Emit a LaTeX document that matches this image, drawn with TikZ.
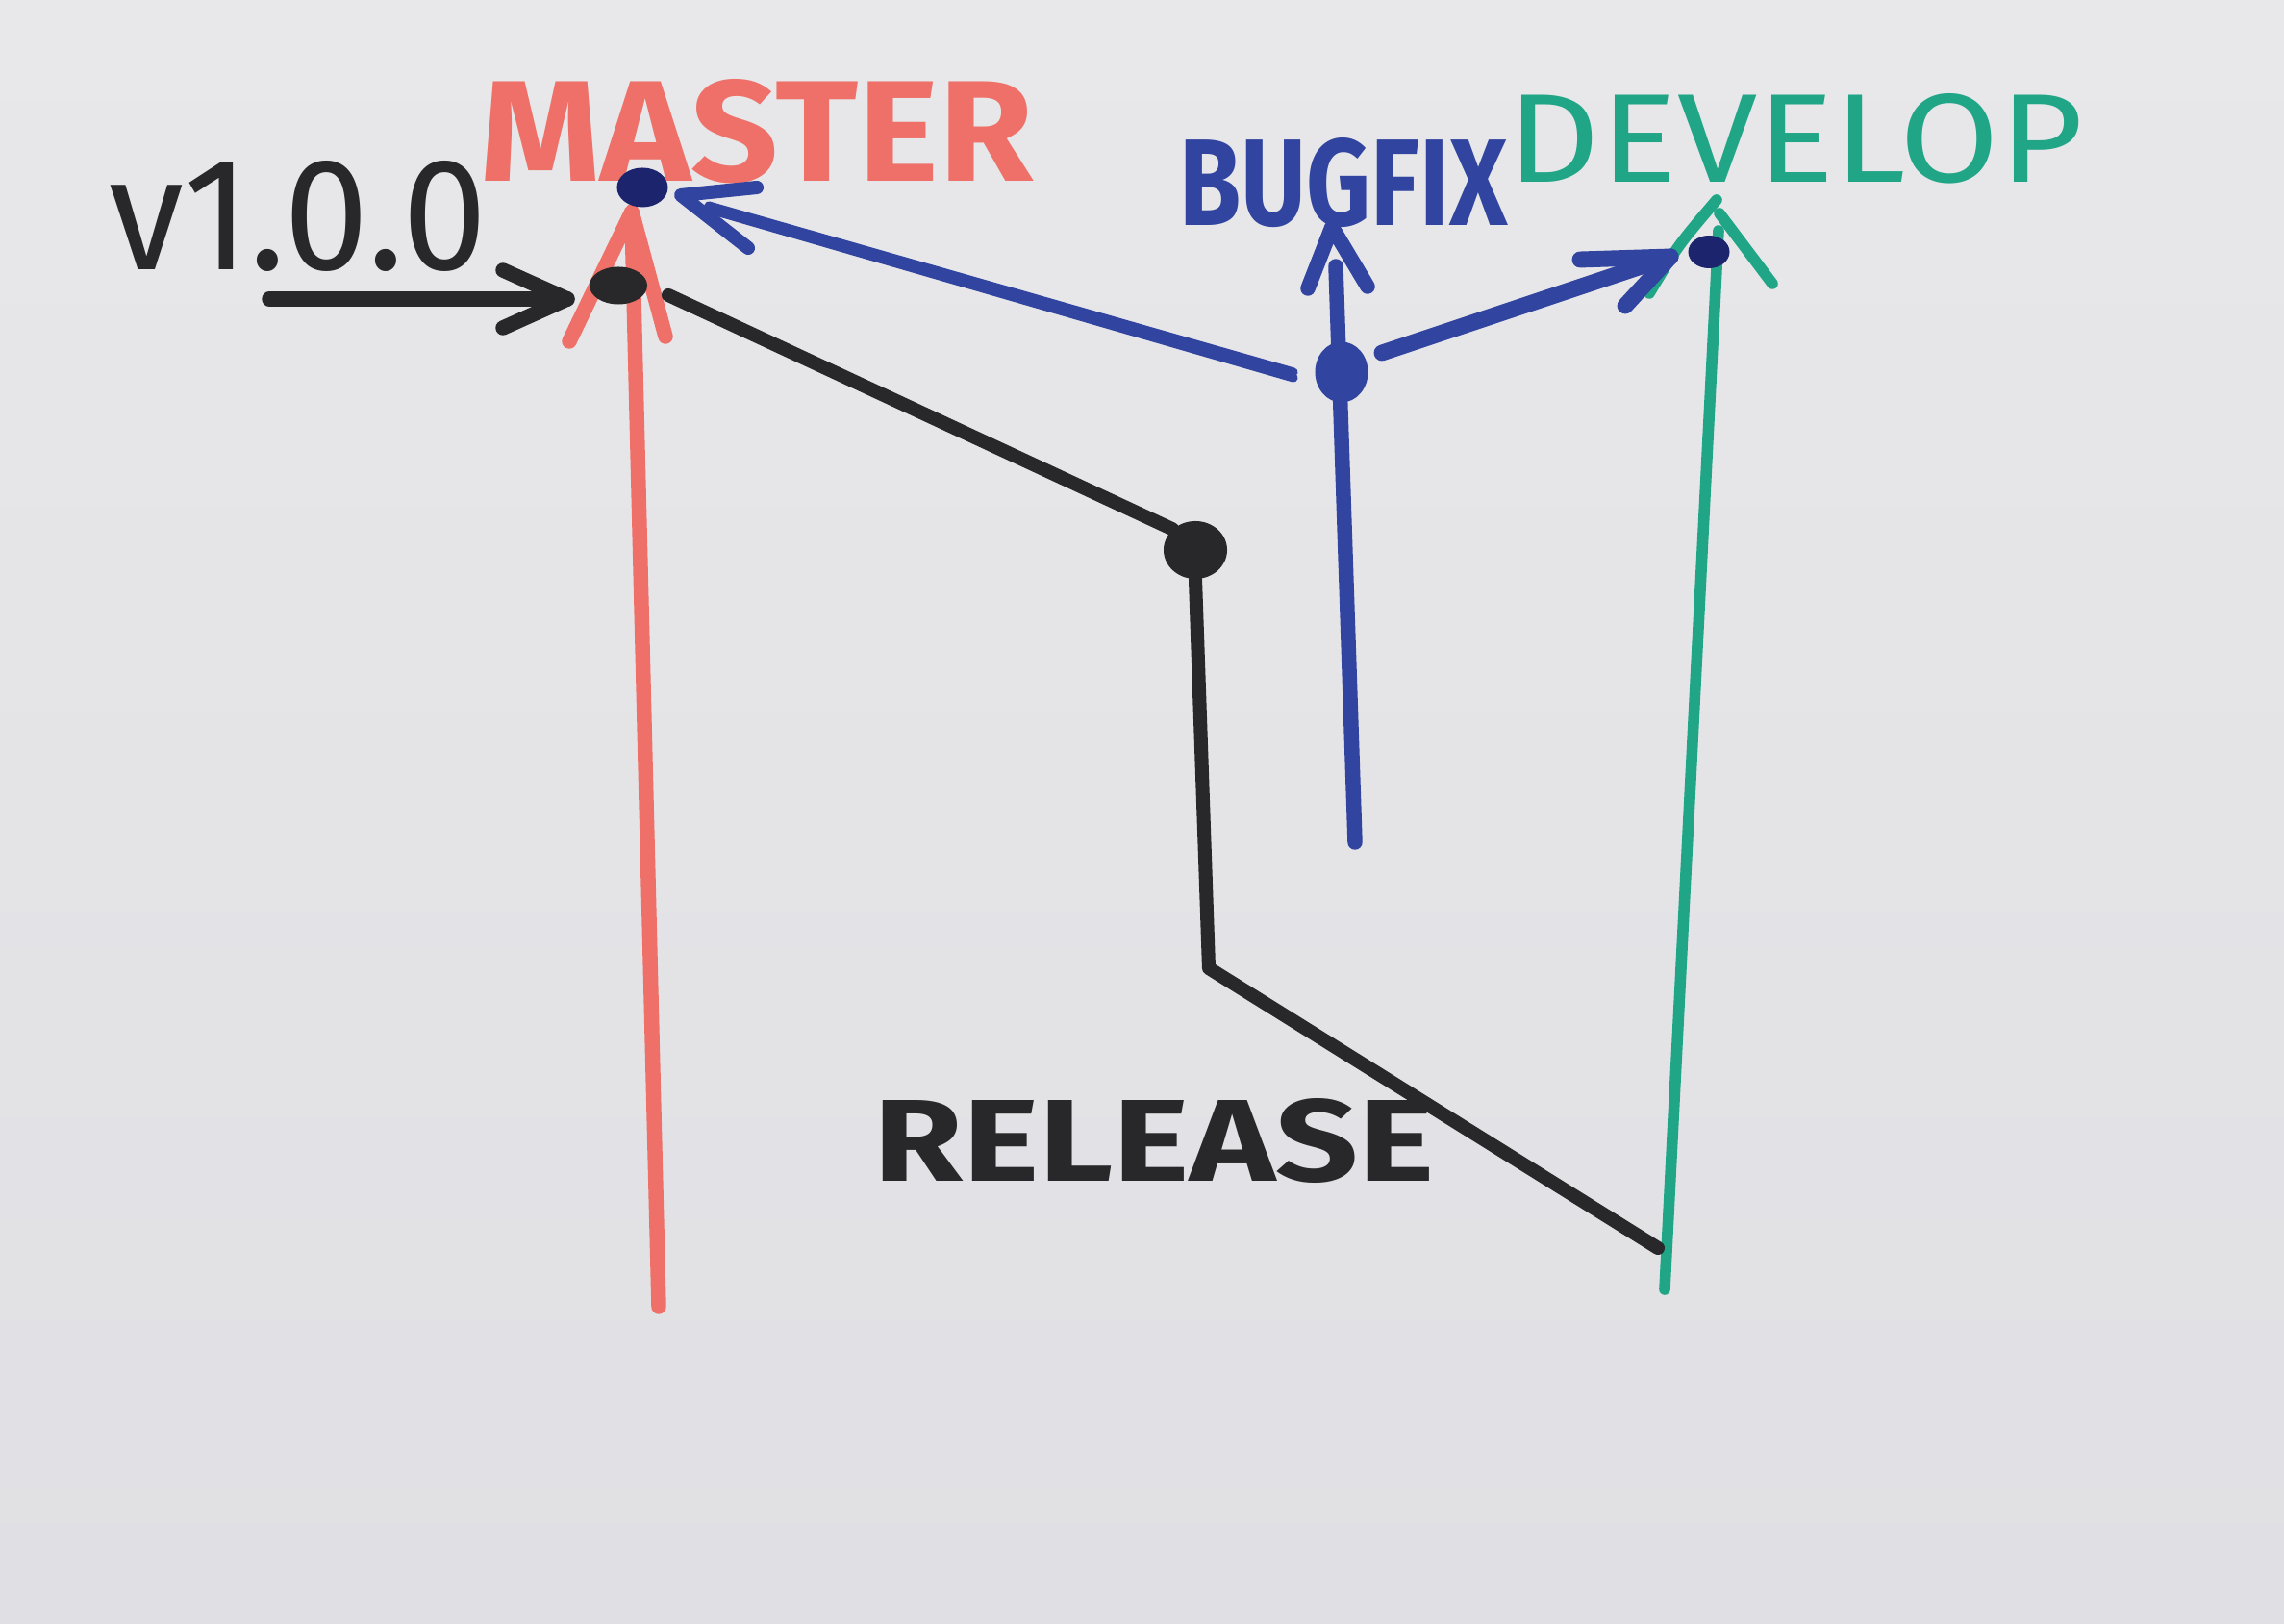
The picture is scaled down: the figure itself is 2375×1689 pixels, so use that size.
\documentclass[tikz,border=0pt]{standalone}
\usepackage{fontspec}
\setmainfont{Fira Sans}
\usetikzlibrary{shapes.geometric}
\definecolor{paperT}{RGB}{232,232,234}
\definecolor{paperB}{RGB}{224,224,228}
\definecolor{mred}{RGB}{238,112,104}
\definecolor{mblue}{RGB}{48,68,160}
\definecolor{mnavy}{RGB}{28,36,110}
\definecolor{mgreen}{RGB}{32,165,135}
\definecolor{mblack}{RGB}{40,40,42}
\tikzset{
  pen/.style={line cap=round,line join=round},
  redpen/.style={pen,draw=mred,line width=4.4pt},
  bluepen/.style={pen,draw=mblue,line width=4.4pt},
  greenpen/.style={pen,draw=mgreen,line width=3.3pt},
  blackpen/.style={pen,draw=mblack,line width=4pt},
  dot/.style={ellipse,inner sep=0pt,draw=none},
  label/.style={inner sep=0pt,outer sep=0pt}
}
\begin{document}
\begin{tikzpicture}[x=0.01cm,y=-0.01cm]
\useasboundingbox (0,0) rectangle (2375,1689);
\shade[top color=paperT,bottom color=paperB] (0,0) rectangle (2375,1689);

% labels
\node[label,text=mred] (lmaster) at (787,137) {\resizebox{5.75cm}{1.06cm}{\bfseries MASTER}};
\node[label,text=mblack] (lversion) at (310,225) {\resizebox{3.93cm}{1.13cm}{v1.0.0}};
\node[label,text=mblue] (lbugfix) at (1397,190) {\resizebox{3.41cm}{0.91cm}{\bfseries BUGFIX}};
\node[label,text=mgreen] (ldevelop) at (1867,144) {\resizebox{5.98cm}{0.92cm}{DEVELOP}};
\node[label,text=mblack] (lrelease) at (1200,1187) {\resizebox{5.83cm}{0.86cm}{\bfseries RELEASE}};

% branch end points
\coordinate (mbot) at (685,1359);
\coordinate (mtop) at (657,225);
\coordinate (dbot) at (1731,1341);
\coordinate (dtop) at (1787,240);
\coordinate (bbot) at (1409,876);
\coordinate (btop) at (1389,277);
\coordinate (vstart) at (280,311);
\coordinate (vtip) at (590,311);
\coordinate (rstart) at (695,307);
\coordinate (rcorner) at (1257,1007);
\coordinate (rend) at (1724,1298);
\coordinate (mtip) at (708,203);
\coordinate (dtip) at (1737,267);
\coordinate (bmstart) at (1345,387);
\coordinate (bdstart) at (1437,367);

% master branch
\draw[redpen] (mbot) -- (mtop);
\draw[redpen] (592,355) -- (657,220) -- (692,350);

% develop branch
\draw[greenpen] (dbot) -- (dtop);
\draw[greenpen] (1715,305) .. controls (1745,255) .. (1785,208);
\draw[greenpen] (1788,222) -- (1843,295);

% bugfix branch
\draw[bluepen] (bbot) -- (btop);
\draw[bluepen] (1360,300) -- (1385,236) -- (1422,298);

% commits
\node[dot,fill=mblack,minimum width=0.60cm,minimum height=0.39cm] (vdot) at (643,297) {};
\node[dot,fill=mnavy,minimum width=0.53cm,minimum height=0.41cm] (mdot) at (668,195) {};
\node[dot,fill=mblack,minimum width=0.66cm,minimum height=0.60cm] (rdot) at (1243,572) {};
\node[dot,fill=mblue,minimum width=0.55cm,minimum height=0.63cm] (bdot) at (1395,387) {};
\node[dot,fill=mnavy,minimum width=0.43cm,minimum height=0.34cm] (ddot) at (1777,262) {};

% release branch
\draw[blackpen] (rstart) -- (rdot.north west);
\draw[blackpen] (rdot.south) -- (rcorner) -- (rend);

% v1.0.0 tag arrow
\draw[blackpen,line width=4.4pt] (vstart) -- (vtip);
\draw[blackpen,line width=4.4pt] (523,281) -- (vtip) -- (523,341);

% bugfix merges
\draw[pen,draw=mblue,line width=2.6pt] (bmstart) -- (737,214);
\draw[pen,draw=mblue,line width=2.6pt] ([yshift=-0.06cm]bmstart) -- (745,220);
\draw[pen,draw=mblue,line width=4pt] (787,195) -- (mtip) -- (778,258);
\draw[pen,draw=mblue,line width=4.8pt] (bdstart) -- (dtip);
\draw[pen,draw=mblue,line width=4.8pt] (1643,270) -- (dtip) -- (1690,318);
\end{tikzpicture}
\end{document}
